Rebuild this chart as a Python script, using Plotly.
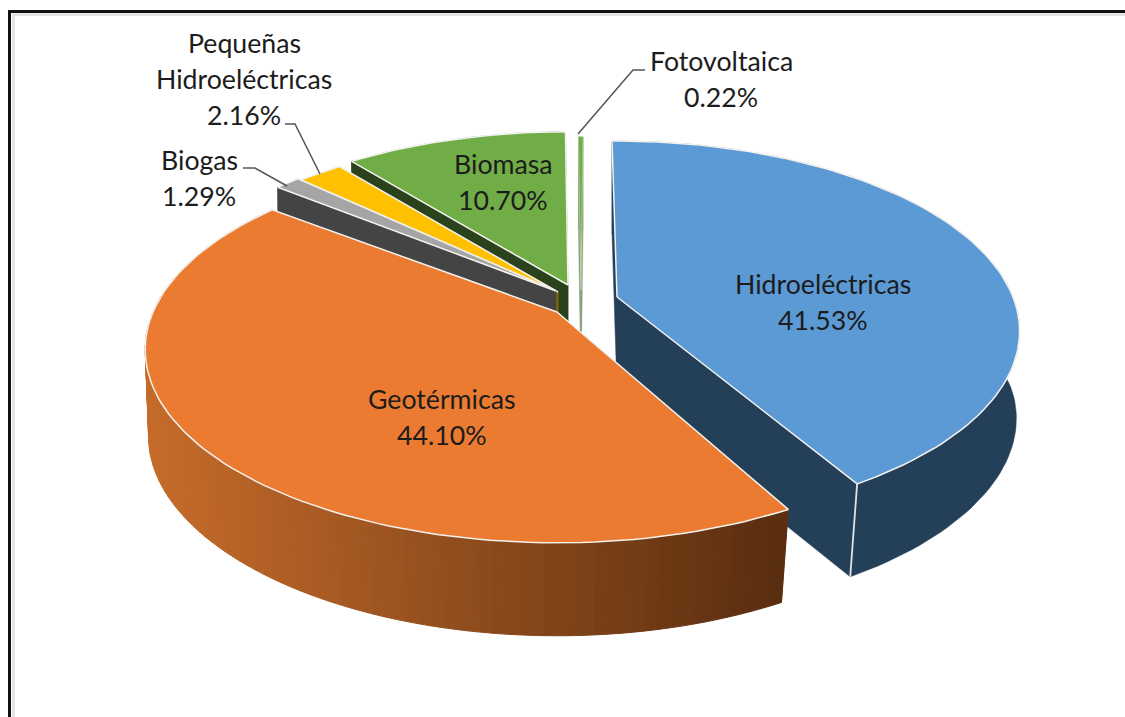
import math
import plotly.graph_objects as go

# ---- data ----
categories = ["Hidroeléctricas", "Geotérmicas", "Biogas", "Pequeñas Hidroeléctricas", "Biomasa", "Fotovoltaica"]
values = [41.53, 44.10, 1.29, 2.16, 10.70, 0.22]

# ---- styling / geometry ----
top_colors = ["#5b9ad5", "#ea7b31", "#a5a5a5", "#ffc000", "#70ad47", "#70ad47"]
wall_colors = ["#243f58", "#a35719", "#444444", "#8a6a00", "#2b431c", "#8aa07a"]
apex_x = [617, 557, 556, 558, 568, 581]
apex_y = [297, 312, 291, 292, 285, 290]
radius_x = [396, 404, 400, 398, 396, 396]
radius_y = [184, 186, 186, 186, 183, 183]
tilt = [0.18, 0.194, 0.194, 0.194, 0.194, 0.194]
start_shift = [0, 3, 1.3, 1, 1.2, 1.2]
end_shift = [0.5, 0.5, 1, 1, 1.2, 1.2]
draw_order = [4, 5, 3, 2, 0, 1]
START_ANGLE = -0.85
DEPTH = 93.0
W, H = 1125, 717


def project(i, deg):
    """Map a point on the unit circle at clockwise angle deg through the tilted-disc view."""
    t = math.radians(deg)
    u, v = math.sin(t), math.cos(t)
    w = 1 + tilt[i] * v
    return radius_x[i] * u / w, -radius_y[i] * v / w, v


def rim_top(i, deg):
    dx, dy, _ = project(i, deg)
    return apex_x[i] + dx, apex_y[i] + dy


def rim_bottom(i, deg):
    dx, dy, v = project(i, deg)
    s = 0.997 + 0.03 * min(v, 0)
    return apex_x[i] + dx * s, apex_y[i] + dy + DEPTH


def apex_bottom(i):
    return apex_x[i], apex_y[i] + DEPTH


def poly(xs, ys, fill, line_color, line_width):
    return go.Scatter(
        x=xs + xs[:1], y=ys + ys[:1], mode="lines", fill="toself", fillcolor=fill,
        line=dict(color=line_color, width=line_width), hoverinfo="skip", showlegend=False,
    )


GRAD_L, GRAD_R = (197, 107, 42), (90, 46, 16)


def gradient(x):
    f = min(max((x - 150) / 630, 0), 1)
    return "rgb(%d,%d,%d)" % tuple(round(a + (b - a) * f) for a, b in zip(GRAD_L, GRAD_R))


# slice angle ranges derive from the values
angles = []
a = START_ANGLE
total = sum(values)
for val in values:
    b = a + val / total * 360
    angles.append((a, b))
    a = b

fig = go.Figure()
for i in draw_order:
    a0, a1 = angles[i][0] + start_shift[i], angles[i][1] + end_shift[i]
    n = max(int((a1 - a0) / 1.5), 2)
    degs = [a0 + (a1 - a0) * j / n for j in range(n + 1)]
    ax, ay = float(apex_x[i]), float(apex_y[i])
    bx, by = apex_bottom(i)
    # radial walls
    for d in (a0, a1):
        tx, ty = rim_top(i, d)
        ux, uy = rim_bottom(i, d)
        fill = wall_colors[i]
        fig.add_trace(poly([ax, tx, ux, bx], [ay, ty, uy, by], fill, fill, 0.5))
    # outer wall, only its front part can be seen
    if i == 1:
        for j in range(n):
            d0, d1 = degs[j], degs[j + 1]
            p0, p1, q1, q0 = rim_top(i, d0), rim_top(i, d1), rim_bottom(i, d1), rim_bottom(i, d0)
            c = gradient((p0[0] + p1[0]) / 2)
            fig.add_trace(poly([p0[0], p1[0], q1[0], q0[0]], [p0[1], p1[1], q1[1], q0[1]], c, c, 1))
    else:
        tops = [rim_top(i, d) for d in degs]
        bots = [rim_bottom(i, d) for d in reversed(degs)]
        fig.add_trace(poly([p[0] for p in tops] + [p[0] for p in bots],
                           [p[1] for p in tops] + [p[1] for p in bots],
                           wall_colors[i], wall_colors[i], 0.5))
    # white vertical corner edge on the blue slice
    if i == 0:
        tx, ty = rim_top(i, a1)
        ux, uy = rim_bottom(i, a1)
        fig.add_trace(go.Scatter(x=[tx, ux], y=[ty, uy], mode="lines",
                                 line=dict(color="#dfe3e8", width=1.8), hoverinfo="skip", showlegend=False))
    # top face
    tops = [rim_top(i, d) for d in degs]
    fig.add_trace(poly([ax] + [p[0] for p in tops], [ay] + [p[1] for p in tops],
                       top_colors[i], "#f4f2ee", 1.5 if values[i] > 1 else 0.4))

# ---- leader lines ----
leader_x = [[285, 295, 320], [243, 255, 287], [645, 633, 578]]
leader_y = [[124, 124, 174], [168, 168, 186], [70, 70, 134]]
for lx, ly in zip(leader_x, leader_y):
    fig.add_trace(go.Scatter(x=lx, y=ly, mode="lines", line=dict(color="#555555", width=1.5),
                             hoverinfo="skip", showlegend=False))

# ---- labels ----
label_lines = [["Hidroeléctricas"], ["Geotérmicas"], ["Biogas"], ["Pequeñas", "Hidroeléctricas"], ["Biomasa"], ["Fotovoltaica"]]
label_x = [823, 442, 199, 244, 503, 721]
label_y = [284, 399, 160, 43, 164, 61]
LINE_GAP = 36
annotations = []
for lines, val, lx, ly in zip(label_lines, values, label_x, label_y):
    for k, t in enumerate(lines + [f"{val:.2f}%"]):
        annotations.append(dict(x=lx, y=ly + k * LINE_GAP, xref="x", yref="y", text=t, showarrow=False,
                                xanchor="center", yanchor="middle",
                                font=dict(family="Lato", size=26.7, color="#1c1c1c")))

# ---- frame ----
shapes = [
    dict(type="line", x0=13, y0=14.5, x1=W, y1=14.5, line=dict(color="#e4e4e4", width=3), layer="below"),
    dict(type="line", x0=13.5, y0=14, x1=13.5, y1=H, line=dict(color="#e4e4e4", width=3), layer="below"),
    dict(type="line", x0=8, y0=11.5, x1=W, y1=11.5, line=dict(color="#111111", width=3), layer="below"),
    dict(type="line", x0=9.5, y0=10, x1=9.5, y1=H, line=dict(color="#111111", width=3), layer="below"),
]

fig.update_layout(
    width=W, height=H, margin=dict(l=0, r=0, t=0, b=0), paper_bgcolor="white", plot_bgcolor="white",
    xaxis=dict(range=[0, W], visible=False, fixedrange=True),
    yaxis=dict(range=[H, 0], visible=False, fixedrange=True),
    showlegend=False, annotations=annotations, shapes=shapes,
)
fig.write_html("out.html", post_script="document.body.style.margin='0';document.body.style.overflow='hidden';",
               config=dict(displayModeBar=False))
